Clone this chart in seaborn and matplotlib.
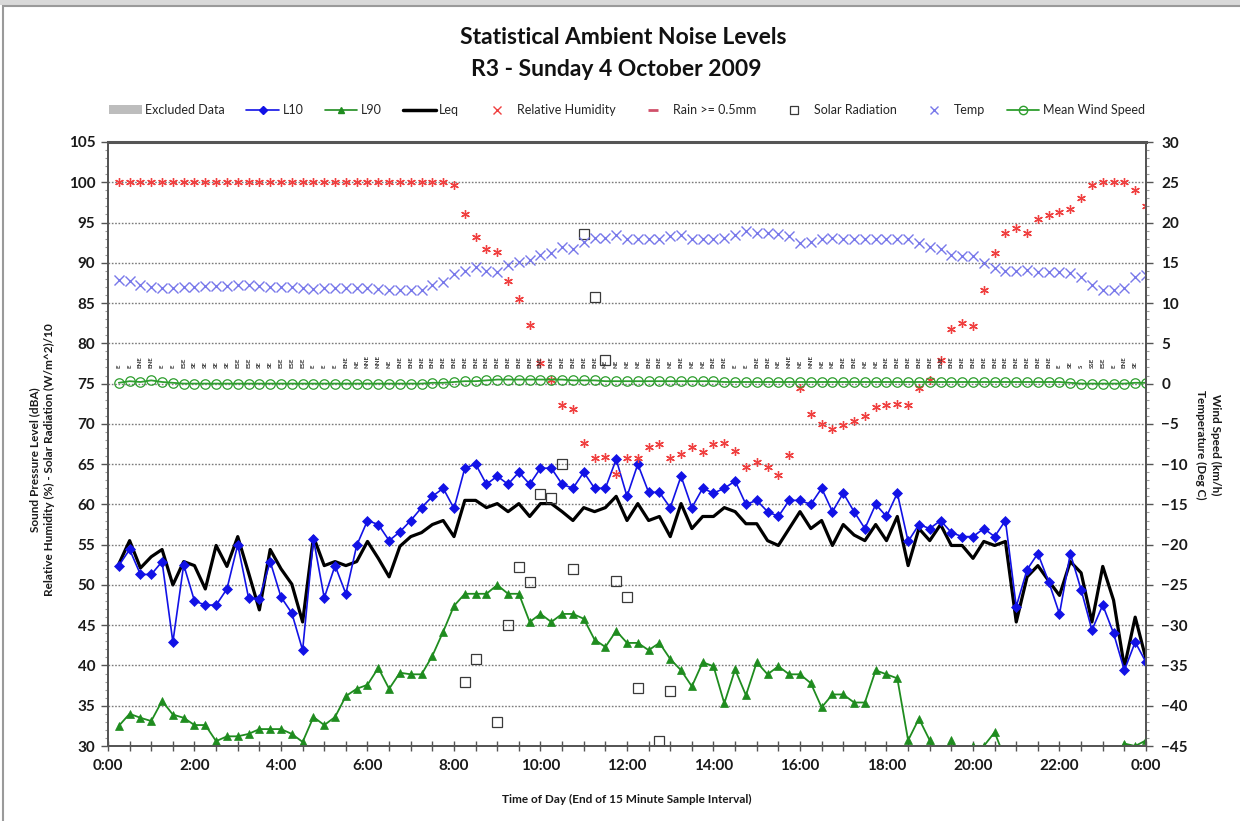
import numpy as np
import matplotlib
matplotlib.use("Agg")
import matplotlib.pyplot as plt
from matplotlib.lines import Line2D
from matplotlib.patches import Patch, Rectangle
from matplotlib.ticker import MultipleLocator
import seaborn as sns

sns.set_theme(style="white")
plt.rcParams['font.family'] = ['Lato', 'DejaVu Sans']

# ---------------- data ----------------
# end of each 15-minute interval, in hours (0:15 ... 24:00)
hours = np.arange(1, 97) * 0.25

xtick_pos = [0, 2, 4, 6, 8, 10, 12, 14, 16, 18, 20, 22, 24]
xtick_labels = ["0:00", "2:00", "4:00", "6:00", "8:00", "10:00", "12:00",
                "14:00", "16:00", "18:00", "20:00", "22:00", "0:00"]

l10 = [52.4, 54.4, 51.3, 51.3, 52.9, 42.9, 52.5, 48.0, 47.5, 47.5, 49.5, 55.0,
       48.4, 48.3, 52.9, 48.5, 46.5, 41.9, 55.7, 48.4, 52.4, 48.9, 54.9, 58.0,
       57.5, 55.5,
       56.6, 58.0, 59.6, 61.0, 62.0, 59.5, 64.5, 65.0, 62.5, 63.5, 62.5, 64.0,
       62.5, 64.5, 64.5, 62.5, 62.0, 64.0, 62.0, 62.0, 65.6, 61.0, 65.0, 61.5,
       61.5, 59.6, 63.5,
       59.6, 62.0, 61.4, 62.0, 62.9, 60.0, 60.5, 59.1, 58.5, 60.5, 60.5, 60.0,
       62.0, 59.1, 61.4, 59.1, 57.0, 60.0, 58.5, 61.4, 55.4, 57.5, 57.0, 58.0,
       56.5, 56.0, 56.0,
       57.0, 56.0, 58.0, 47.3, 51.9, 53.9, 50.4, 46.4, 53.9, 49.4, 44.4, 47.5,
       44.0, 39.4, 42.9, 40.4]

leq = [52.6, 55.5, 52.1, 53.5, 54.4, 50.0, 52.9, 52.4, 49.5, 54.9, 52.3, 56.0,
       51.5, 46.9, 54.4, 52.0, 50.1, 45.4, 56.0, 52.4, 52.9, 52.4, 52.9, 55.4,
       53.3, 51.0,
       54.8, 56.0, 56.5, 57.5, 58.0, 56.0, 60.5, 60.5, 59.6, 60.1, 59.1, 60.1,
       58.5, 60.1, 60.1, 59.1, 58.0, 59.6, 59.1, 59.6, 61.0, 58.0, 60.1, 58.0,
       58.5, 56.0, 60.1,
       57.0, 58.5, 58.5, 59.6, 59.1, 57.6, 57.6, 55.5, 54.9, 57.0, 59.1, 57.0,
       58.0, 54.9, 57.5, 56.2, 55.5, 57.5, 55.5, 58.5, 52.4, 57.0, 55.5, 57.5,
       54.9, 54.9, 53.3,
       55.4, 54.9, 55.4, 45.4, 51.0, 52.4, 50.5, 48.7, 52.9, 51.5, 45.4, 52.3,
       48.1, 39.8, 46.0, 40.8]

l90 = [32.5, 34.0, 33.5, 33.1, 35.6, 33.9, 33.5, 32.6, 32.6, 30.6, 31.2, 31.2,
       31.5, 32.1, 32.1, 32.1, 31.5, 30.5, 33.6, 32.6, 33.6, 36.2, 37.1, 37.6,
       39.7, 37.1,
       39.1, 38.9, 38.9, 41.2, 44.2, 47.4, 48.9, 48.9, 48.9, 50.0, 48.9, 48.9,
       45.4, 46.4, 45.4, 46.4, 46.4, 45.8, 43.2, 42.3, 44.3, 42.8, 42.8, 41.9,
       42.8, 40.8, 39.4,
       37.4, 40.4, 39.9, 35.3, 39.5, 36.3, 40.4, 38.9, 39.9, 38.9, 38.9, 37.8,
       34.8, 36.4, 36.4, 35.4, 35.4, 39.4, 38.9, 38.4, 30.7, 33.4, 30.7, 28.5,
       30.7, 28.5, 30.0,
       30.0, 31.7, 28.3, 27.5, 27.0, 27.2, 27.0, 26.8, 27.0, 27.1, 27.0, 27.2,
       28.5, 30.3, 30.0, 30.7]

humidity = [100.0] * 31 + [
       99.6, 96.1, 93.2, 91.7, 91.4, 87.7, 85.5, 82.3, 77.5, 75.5, 72.3, 71.8,
       67.6, 65.7, 65.9, 63.8, 65.7, 65.7, 67.1, 67.5, 65.7, 66.3,
       67.1, 66.5, 67.5, 67.6, 66.6, 64.7, 65.3, 64.7, 63.6, 66.1,
       74.5, 71.2, 70.0, 69.4, 69.8, 70.3, 71.0, 72.1, 72.3, 72.5, 72.3, 74.5,
       75.4, 77.9, 81.8, 82.5, 82.2,
       86.6, 91.2, 93.7, 94.3, 93.7, 95.5, 95.9, 96.3, 96.7, 98.0, 99.7, 100.0,
       100.0, 100.0, 99.0, 97.1]

nan = np.nan
solar = [nan] * 32 + [
       37.9, 40.8, nan, 33.0, 45.0, 52.2, 50.4, 61.3, 60.8, 65.0, 52.0, 93.6,
       85.7, 77.9, 50.5, 48.5, 37.2, nan, 30.6, 36.8] + [nan] * 44

temp = [12.9, 12.7, 12.2, 12.0, 11.9, 11.9, 12.0, 12.0, 12.1, 12.1, 12.1, 12.2,
        12.2, 12.1, 12.0, 12.0, 12.0, 11.9, 11.8, 11.9, 11.9, 11.9, 11.9, 11.9,
        11.8,
        11.6, 11.6, 11.6, 11.6, 12.3, 12.6, 13.6, 14.0, 14.5, 14.0, 13.8, 14.7,
        15.1, 15.4, 16.0, 16.2, 16.9, 16.7, 17.6, 18.1, 18.1, 18.5, 18.0, 18.0,
        18.0, 18.0,
        18.3, 18.4, 18.0, 18.0, 18.0, 18.1, 18.4, 19.0, 18.7, 18.7, 18.6, 18.3,
        17.4, 17.6, 17.9, 18.1, 18.0, 18.0, 18.0, 17.9, 17.9, 17.9, 18.0, 17.4,
        17.0,
        16.7, 16.0, 15.8, 15.8, 15.0, 14.4, 14.0, 14.0, 14.1, 13.8, 13.8, 13.8,
        13.7, 13.2, 12.2, 11.6, 11.6, 11.9, 13.2, 13.5]

wind_speed = [0.1, 0.3, 0.2, 0.4, 0.2, 0.1, 0.0, 0.0, 0.0, 0.0, 0.0, 0.0,
              0.0, 0.0, 0.0, 0.0, 0.0, 0.0, 0.0, 0.0, 0.0, 0.0, 0.0, 0.0,
              0.0, 0.0, 0.0, 0.0, 0.0, 0.1, 0.1, 0.2, 0.3, 0.3, 0.4, 0.5,
              0.5, 0.5, 0.5, 0.5, 0.5, 0.5, 0.4, 0.4, 0.4, 0.3, 0.3, 0.3,
              0.3, 0.3, 0.3, 0.3, 0.3, 0.3, 0.3, 0.3, 0.2, 0.2, 0.2, 0.2,
              0.2, 0.2, 0.2, 0.2, 0.2, 0.2, 0.2, 0.2, 0.2, 0.2, 0.2, 0.2,
              0.2, 0.2, 0.2, 0.2, 0.2, 0.2, 0.2, 0.2, 0.2, 0.2, 0.2, 0.2,
              0.2, 0.2, 0.2, 0.2, 0.1, 0.0, 0.0, 0.0, 0.0, 0.0, 0.1, 0.1]

wind_dir = ["E", "E", "ENE", "ENE", "E", "E", "ESE", "SE", "SE", "SE", "SE", "ESE",
            "ESE", "SE", "SE", "ESE", "ESE", "ESE", "E", "E", "E", "ENE", "NE", "NNE",
            "NNE", "NE", "ENE", "ENE", "ENE", "ENE", "ENE", "ENE", "ENE", "ENE", "ENE", "ENE",
            "ENE", "ENE", "ENE", "ENE", "ENE", "ENE", "ENE", "ENE", "ENE", "NE", "NE", "NE",
            "NE", "ENE", "ENE", "NE", "ENE", "NE", "NE", "ENE", "ENE", "E", "E", "ENE",
            "ENE", "NE", "NNE", "NE", "NNE", "NE", "NE", "ENE", "ENE", "NE", "NE", "ENE",
            "ENE", "ENE", "ENE", "ENE", "ENE", "ENE", "ENE", "ENE", "ENE", "ENE", "ENE", "ENE",
            "ENE", "ENE", "ENE", "E", "SE", "S", "SSE", "ESE", "E", "ENE", "SE", ""]

# ---------------- style ----------------
C_L10 = "#1212e6"
C_L90 = "#1f8c1f"
C_RH = "#f04040"
C_TEMP = "#7878ea"
C_WIND = "#2e9e2e"
C_SOLAR = "#3a3a3a"
C_AX = "#555555"

W, H = 1240, 821
fig = plt.figure(figsize=(W / 100, H / 100), dpi=100, facecolor="white")
L, R, T, B = 108, 1146, 142, 746
ax = fig.add_axes([L / W, 1 - B / H, (R - L) / W, (B - T) / H])
ax2 = ax.twinx()

# ---- left axis series ----
sns.lineplot(x=hours, y=leq, ax=ax, color="black", linewidth=2.3, legend=False, zorder=3)
sns.lineplot(x=hours, y=l10, ax=ax, color=C_L10, linewidth=1.2, marker="D",
             markersize=5, markerfacecolor=C_L10, markeredgecolor=C_L10,
             markeredgewidth=0.5, legend=False, zorder=4)
sns.lineplot(x=hours, y=l90, ax=ax, color=C_L90, linewidth=1.3, marker="^",
             markersize=6, markerfacecolor=C_L90, markeredgecolor=C_L90,
             markeredgewidth=0.5, legend=False, zorder=4)
sns.lineplot(x=hours, y=humidity, ax=ax, color=C_RH, linestyle="", marker=(6, 2, 0),
             markersize=6.3, markeredgecolor=C_RH, markeredgewidth=0.95, legend=False, zorder=5)
sns.lineplot(x=hours, y=solar, ax=ax, color=C_SOLAR, linestyle="", marker="s",
             markersize=7, markerfacecolor="none", markeredgecolor=C_SOLAR,
             markeredgewidth=0.9, legend=False, zorder=5)

for h, d in zip(hours, wind_dir):
    ax.text(h, 76.9, d, rotation=90, ha="center", va="bottom", fontsize=4.4,
            color="#333333", fontweight="bold", zorder=6)

# ---- right axis series ----
sns.lineplot(x=hours, y=temp, ax=ax2, color=C_TEMP, linestyle="", marker="x",
             markersize=6.5, markeredgecolor=C_TEMP, markeredgewidth=1.0, legend=False)
sns.lineplot(x=hours, y=wind_speed, ax=ax2, color=C_WIND, linewidth=1.3, marker="o",
             markersize=6.8, markerfacecolor="none", markeredgecolor=C_WIND,
             markeredgewidth=0.9, legend=False)

# ---- axes formatting ----
ax.set_xlim(0, 24)
ax.set_ylim(30, 105)
ax2.set_ylim(-45, 30)
ax.set_xticks(xtick_pos)
ax.set_xticklabels(xtick_labels)
ax.xaxis.set_minor_locator(MultipleLocator(0.5))
ax.set_yticks(np.arange(30, 106, 5))
ax.yaxis.set_minor_locator(MultipleLocator(1))
ax2.set_yticks(np.arange(-45, 31, 5))
ax2.yaxis.set_minor_locator(MultipleLocator(1))

ax.grid(False)
ax2.grid(False)
for yv in range(35, 105, 5):
    ax.axhline(yv, color="#7a7a7a", linewidth=1.0, linestyle=(0, (1.2, 1.2)), zorder=1)

for a in (ax, ax2):
    for s in a.spines.values():
        s.set_color(C_AX)
        s.set_linewidth(1.3)
ax.spines["top"].set_linewidth(2.2)

ax.tick_params(axis="x", which="major", bottom=True, direction="inout", length=7,
               width=1, color=C_AX, pad=6)
ax.tick_params(axis="x", which="minor", bottom=True, direction="inout", length=7,
               width=1, color=C_AX)
ax.tick_params(axis="y", which="major", left=True, direction="out", length=5,
               width=1, color=C_AX, pad=4)
ax.tick_params(axis="y", which="minor", left=True, direction="out", length=2.5,
               width=0.8, color="#999999")
ax2.tick_params(axis="y", which="major", right=True, direction="out", length=5,
                width=1, color=C_AX, pad=6)
ax2.tick_params(axis="y", which="minor", right=True, direction="out", length=2.5,
                width=0.8, color="#999999")
for lab in ax.get_xticklabels() + ax.get_yticklabels() + ax2.get_yticklabels():
    lab.set_fontsize(11)
    lab.set_fontweight("bold")
    lab.set_color("#1a1a1a")

ax.set_xlabel("Time of Day (End of 15 Minute Sample Interval)", fontsize=8.5,
              fontweight="bold", labelpad=15, color="#1a1a1a")
ax.set_ylabel("")
ax2.set_ylabel("")

fig.text(42 / W, 1 - 460 / H,
         "Sound Pressure Level (dBA)\nRelative Humidity (%) - Solar Radiation (W/m^2)/10",
         rotation=90, ha="center", va="center", fontsize=8.5, fontweight="bold",
         linespacing=1.35, color="#1a1a1a")
fig.text(1208 / W, 1 - 445 / H, "Wind Speed (km/h)\nTemperature (Deg C)",
         rotation=270, ha="center", va="center", fontsize=8.5, fontweight="bold",
         linespacing=1.35, color="#1a1a1a")

# ---- title ----
fig.text(623 / W, 1 - 38 / H, "Statistical Ambient Noise Levels", ha="center", va="center",
         fontsize=16.5, fontweight="bold", color="#111111")
fig.text(616 / W, 1 - 70 / H, "R3 - Sunday 4 October 2009", ha="center", va="center",
         fontsize=16.5, fontweight="bold", color="#111111")

# ---- legend ----
handles = [
    Patch(facecolor="#bdbdbd", edgecolor="none"),
    Line2D([], [], color=C_L10, lw=1.2, marker="D", ms=4, mfc=C_L10, mec=C_L10),
    Line2D([], [], color=C_L90, lw=1.2, marker="^", ms=5, mfc=C_L90, mec=C_L90),
    Line2D([], [], color="black", lw=2.5),
    Line2D([], [], color=C_RH, ls="", marker="x", ms=5.5, mew=1.0),
    Line2D([], [], color="#d0506a", ls="", marker="_", ms=7, mew=2),
    Line2D([], [], color=C_SOLAR, ls="", marker="s", ms=6, mfc="none", mew=0.9),
    Line2D([], [], color=C_TEMP, ls="", marker="x", ms=6, mew=1.0),
    Line2D([], [], color=C_WIND, lw=1.3, marker="o", ms=6, mfc="none", mec=C_WIND),
]
labels = ["Excluded Data", "L10", "L90", "Leq", "Relative Humidity", "Rain >= 0.5mm",
          "Solar Radiation", "Temp", "Mean Wind Speed"]
fig.legend(handles, labels, loc="center", bbox_to_anchor=(627 / W, 1 - 110 / H),
           ncol=9, frameon=False, fontsize=9, handlelength=2.6, handletextpad=0.3,
           columnspacing=1.7)

# ---- outer frame ----
fig.patches.append(Rectangle((0, 1 - 5 / H), 1, 5 / H, transform=fig.transFigure,
                             facecolor="#d9d9d9", edgecolor="none", zorder=0))
fig.patches.append(Rectangle((3 / W, -0.05), 1.2, 1.05 - 6 / H, transform=fig.transFigure,
                             fill=False, edgecolor="#9a9a9a", linewidth=1.5, zorder=0))

fig.savefig("out.png", dpi=100, facecolor="white")
